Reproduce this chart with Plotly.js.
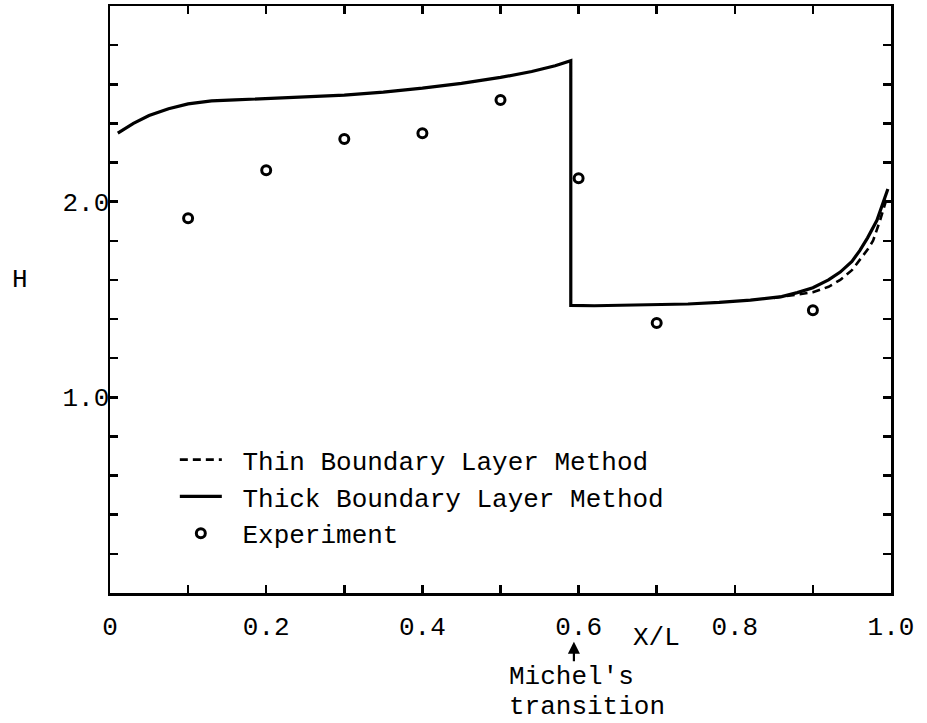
<!DOCTYPE html>
<html>
<head>
<meta charset="utf-8">
<script src="https://cdn.plot.ly/plotly-3.0.1.min.js"></script>
<style>html,body{margin:0;padding:0;background:#fff;}#chart{width:927px;height:723px;}</style>
</head>
<body>
<div id="chart"></div>
<script>
// Thick Boundary Layer Method (solid)
const thickX = [0.01, 0.03, 0.05, 0.075, 0.10, 0.13, 0.16, 0.20, 0.25, 0.30, 0.35, 0.40, 0.45, 0.50, 0.54, 0.57, 0.59, 0.59, 0.62, 0.66, 0.70, 0.74, 0.78, 0.82, 0.86, 0.88, 0.90, 0.92, 0.935, 0.95, 0.96, 0.97, 0.982, 0.992, 0.996];
const thickH = [2.35, 2.40, 2.44, 2.475, 2.50, 2.515, 2.52, 2.527, 2.535, 2.545, 2.56, 2.58, 2.605, 2.635, 2.665, 2.695, 2.72, 1.47, 1.468, 1.47, 1.473, 1.477, 1.485, 1.497, 1.515, 1.535, 1.56, 1.60, 1.64, 1.695, 1.75, 1.815, 1.905, 2.02, 2.065];
// Thin Boundary Layer Method (dashed), visible where it departs from the thick curve
const thinX = [0.85, 0.87, 0.90, 0.92, 0.935, 0.95, 0.96, 0.97, 0.977, 0.986, 0.994];
const thinH = [1.508, 1.52, 1.537, 1.565, 1.60, 1.65, 1.70, 1.755, 1.80, 1.905, 2.01];
// Experiment
const expX = [0.1, 0.2, 0.3, 0.4, 0.5, 0.6, 0.7, 0.9];
const expH = [1.915, 2.16, 2.32, 2.35, 2.52, 2.12, 1.38, 1.445];

const xTickVals = [0, 0.1, 0.2, 0.3, 0.4, 0.5, 0.6, 0.7, 0.8, 0.9, 1.0];
const xTickText = ['0', '', '0.2', '', '0.4', '', '0.6', '', '0.8', '', '1.0'];
const yTickVals = [0.2, 0.4, 0.6, 0.8, 1.0, 1.2, 1.4, 1.6, 1.8, 2.0, 2.2, 2.4, 2.6, 2.8];
const yTickText = ['', '', '', '', '1.0', '', '', '', '', '2.0', '', '', '', ''];

const FONT = 'Liberation Mono, Courier New, monospace';
const SP = '\u00a0';

const traces = [
  {x: thinX, y: thinH, mode: 'lines', name: SP + 'Thin Boundary Layer Method',
   line: {color: '#000', width: 2.6, dash: '8px,5px'}},
  {x: thickX, y: thickH, mode: 'lines', name: SP + 'Thick Boundary Layer Method',
   line: {color: '#000', width: 3.2}},
  {x: expX, y: expH, mode: 'markers', name: SP + 'Experiment',
   marker: {symbol: 'circle-open', size: 9, color: '#000', line: {width: 3, color: '#000'}}}
];

const axisCommon = {
  showline: true, linecolor: '#000', linewidth: 2.5, mirror: 'ticks',
  ticks: 'inside', ticklen: 8, tickwidth: 2.5, tickcolor: '#000',
  showgrid: false, zeroline: false, fixedrange: true,
  tickfont: {family: FONT, size: 26, color: '#000'}
};

const layout = {
  width: 927, height: 723,
  margin: {l: 110, r: 36, t: 6, b: 130},
  paper_bgcolor: '#fff', plot_bgcolor: '#fff',
  showlegend: true,
  legend: {x: 0.083, y: 0.267, xanchor: 'left', yanchor: 'top',
           font: {family: FONT, size: 26, color: '#000'},
           bgcolor: 'rgba(0,0,0,0)', borderwidth: 0, itemwidth: 42, tracegroupgap: 0},
  xaxis: Object.assign({}, axisCommon, {range: [0, 1], tickmode: 'array', tickvals: xTickVals, ticktext: xTickText, ticklabelstandoff: 8}),
  yaxis: Object.assign({}, axisCommon, {range: [0, 3], tickmode: 'array', tickvals: yTickVals, ticktext: yTickText, ticklabelstandoff: -7}),
  annotations: [
    {text: 'H', xref: 'paper', yref: 'paper', x: -0.115, y: 0.533, xanchor: 'center', yanchor: 'middle', showarrow: false, font: {family: FONT, size: 26, color: '#000'}},
    {text: 'X/L', xref: 'x', yref: 'paper', x: 0.7, y: -0.077, xanchor: 'center', yanchor: 'middle', showarrow: false, font: {family: FONT, size: 26, color: '#000'}},
    {text: "Michel's", xref: 'x', yref: 'paper', x: 0.508, y: -0.143, xanchor: 'left', yanchor: 'middle', showarrow: false, font: {family: FONT, size: 26, color: '#000'}},
    {text: 'transition', xref: 'x', yref: 'paper', x: 0.508, y: -0.194, xanchor: 'left', yanchor: 'middle', showarrow: false, font: {family: FONT, size: 26, color: '#000'}},
    {text: '', xref: 'x', yref: 'paper', x: 0.594, y: -0.083, ax: 0, ay: 21, showarrow: true, arrowhead: 2, arrowsize: 1.1, arrowwidth: 2.2, arrowcolor: '#000'}
  ]
};

Plotly.newPlot('chart', traces, layout, {displayModeBar: false, staticPlot: true});
</script>
</body>
</html>
